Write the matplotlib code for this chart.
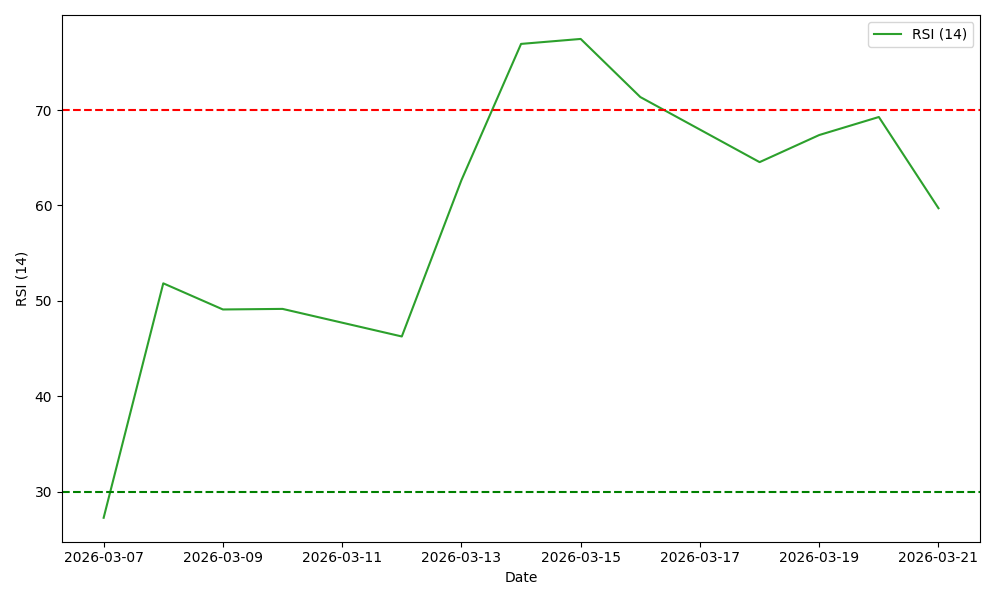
import pandas as pd
import matplotlib.pyplot as plt

dates = pd.to_datetime([
    "2026-03-07", "2026-03-08", "2026-03-09", "2026-03-10", "2026-03-12",
    "2026-03-13", "2026-03-14", "2026-03-15", "2026-03-16", "2026-03-18",
    "2026-03-19", "2026-03-20", "2026-03-21",
])
rsi = [27.27, 51.84, 49.1, 49.16, 46.27, 62.65, 76.93, 77.45, 71.36, 64.54,
       67.38, 69.27, 59.71]

fig, ax = plt.subplots(figsize=(10, 6), dpi=100)
ax.plot(dates, rsi, color="tab:green", label="RSI (14)")
ax.axhline(70, color="red", linestyle="--")
ax.axhline(30, color="green", linestyle="--")

tick_dates = pd.date_range("2026-03-07", "2026-03-21", freq="2D")
ax.set_xticks(tick_dates)
ax.set_xticklabels([d.strftime("%Y-%m-%d") for d in tick_dates])

ax.set_xlabel("Date")
ax.set_ylabel("RSI (14)")
ax.legend(loc="upper right")

plt.tight_layout()
plt.savefig("out.png")
